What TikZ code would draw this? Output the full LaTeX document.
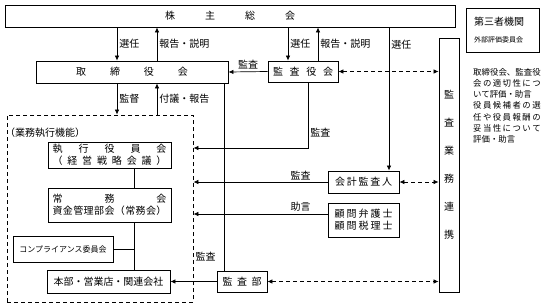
\documentclass[tikz,border=0pt]{standalone}
\usepackage{fontspec}
\setmainfont{Noto Sans CJK JP}
\usetikzlibrary{arrows.meta,positioning}
\newcommand{\fs}[2]{\fontsize{#1}{#2}\selectfont}
% spread the characters of #2 over width #1
\newcommand{\spr}[2]{\hbox to #1{\sprA#2\relax}}
\def\sprA#1{#1\sprB}
\def\sprB#1{\ifx\relax#1\else\hfil#1\expandafter\sprB\fi}
\tikzset{
  box/.style={draw,line width=0.9pt,inner sep=0pt,align=center,font=\fs{10}{12}},
  lbl/.style={inner sep=0pt,font=\fs{10}{12}},
  ln/.style={line width=0.7pt},
  ar/.style={ln,-{Latex[length=5pt,width=4.5pt]}},
  dar/.style={ln,dash pattern=on 4pt off 3pt,{Latex[length=5pt,width=4.5pt]}-{Latex[length=5pt,width=4.5pt]}},
}

\begin{document}
\begin{tikzpicture}[x=1pt,y=-1pt]
\useasboundingbox (0,0) rectangle (555,308);
% boxes
\node[box,minimum width=450pt,minimum height=22pt] (shm) at (230,16) {\spr{130pt}{株主総会}};
\node[box,align=left,inner xsep=8pt,text width=57pt,minimum height=44pt] (dai3) at (502.5,30) {第三者機関\\[5pt]{\fs{7}{8}外部評価委員会}};
\node[box,minimum width=192pt,minimum height=22pt] (trk) at (132,72) {\spr{112pt}{取締役会}};
\node[box,minimum width=70pt,minimum height=21pt] (kns) at (303,71.5) {\spr{60pt}{監査役会}};
\node[box,minimum width=20pt,minimum height=254pt,font=\fs{10}{28}] (renkei) at (449,165) {監\\査\\業\\務\\連\\携};
\node[box,minimum width=71pt,minimum height=22pt] (kaikei) at (363.5,182) {\spr{57pt}{会計監査人}};
\node[box,minimum width=71pt,minimum height=34pt] (komon) at (363.5,220) {\spr{58pt}{顧問弁護士}\\\spr{58pt}{顧問税理士}};
\node[box,minimum width=50pt,minimum height=21pt] (kansabu) at (242,281.5) {\spr{39pt}{監査部}};
\node[anchor=north west,inner sep=0pt,align=left,font=\fs{8.4}{11.2}] (hyoka) at (473,68) {%
  \spr{67.5pt}{取締役会、監査役}\\
  \spr{67.5pt}{会の適切性につ}\\
  いて評価・助言\\
  \spr{67.5pt}{役員候補者の選}\\
  \spr{67.5pt}{任や役員報酬の}\\
  \spr{67.5pt}{妥当性について}\\
  評価・助言};
% 業務執行機能
\node[draw,line width=0.9pt,dash pattern=on 4pt off 3pt,minimum width=186pt,minimum height=187pt] (gyomu) at (100,208.5) {};
\node[lbl,anchor=west] (gyomulbl) at (5,133) {（業務執行機能）};
\node[box,minimum width=123pt,minimum height=26pt] (shikko) at (109.5,155) {\spr{114pt}{執行役員会}\\\spr{114pt}{（経営戦略会議）}};
\node[box,minimum width=123pt,minimum height=34pt] (jomu) at (109.5,205) {\spr{114pt}{常務会}\\\spr{114pt}{資金管理部会（常務会）}};
\node[box,minimum width=100pt,minimum height=26pt,font=\fs{8}{10}] (comp) at (63,249) {コンプライアンス委員会};
\node[box,minimum width=123pt,minimum height=23pt] (honbu) at (108.5,281.5) {本部・営業店・関連会社};
\node[lbl] (kbl) at (205.5,257) {監査};
% line positions
\coordinate (xa) at (117,0);
\coordinate (xb) at (157,0);
\coordinate (xc) at (288,0);
\coordinate (xd) at (318,0);
\coordinate (xe) at (389,0);
\coordinate (xf) at (224,0);
\coordinate (xg) at (308,148);
\coordinate (xv) at (134,0);
\coordinate (yk) at (0,214);
% connectors
\draw[ar] (shm.south -| xa) -- (trk.north -| xa) node[lbl,midway,right=2pt] {選任};
\draw[ar] (trk.north -| xb) -- (shm.south -| xb) node[lbl,midway,right=2pt] {報告・説明};
\draw[ar] (kns.west) -- (trk.east) node[lbl,midway,above=2pt] {監査};
\draw[ar] (shm.south -| xc) -- (kns.north -| xc) node[lbl,midway,right=2pt] {選任};
\draw[ar] (kns.north -| xd) -- (shm.south -| xd) node[lbl,midway,right=2pt] {報告・説明};
\draw[ar] (shm.south -| xe) -- (kaikei.north -| xe) node[lbl,pos=0.12,right=2pt] {選任};
\draw[dar] (kns.east) -- (kns.east -| renkei.west);
\draw[ar] (trk.south -| xa) -- (gyomu.north -| xa) node[lbl,midway,right=2pt] {監督};
\draw[ar] (gyomu.north -| xb) -- (trk.south -| xb) node[lbl,midway,right=2pt] {付議・報告};
\draw[ln] (trk.south -| xf) -- (kansabu.north -| xf);
\draw[ar] (kns.south -| xg) -- node[lbl,pos=0.77,right=2pt] {監査} (xg) -- (xg -| gyomu.east);
\draw[ar] (kaikei.west) -- (kaikei.west -| gyomu.east) node[lbl,pos=0.2,above=2pt] {監査};
\draw[dar] (kaikei.east) -- (kaikei.east -| renkei.west);
\draw[ar] (komon.west |- yk) -- (gyomu.east |- yk) node[lbl,pos=0.2,above=2pt] {助言};
\draw[ar] (kansabu.west) -- (honbu.east);
\draw[dar] (kansabu.east) -- (kansabu.east -| renkei.west);
\draw[ln] (shikko.south -| xv) -- (jomu.north -| xv);
\draw[ln] (jomu.south -| xv) -- (honbu.north -| xv);
\draw[ln] (comp.east) -- (comp.east -| xv);
\end{tikzpicture}
\end{document}
